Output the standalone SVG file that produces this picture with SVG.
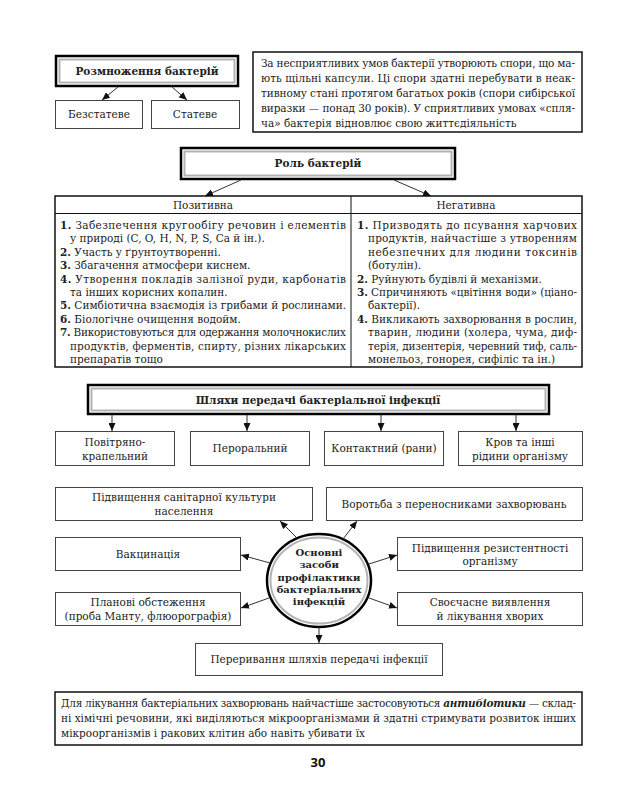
<svg xmlns="http://www.w3.org/2000/svg" width="631" height="800" viewBox="0 0 631 800">
<defs>
<marker id="ah" markerUnits="userSpaceOnUse" markerWidth="8" markerHeight="7" refX="8" refY="3.5" orient="auto">
<path d="M0,0 L8,3.5 L0,7 z" fill="#111"/>
</marker>
<style>
.box{fill:#fff;stroke:#444;stroke-width:1}
.tb{fill:#fff;stroke:#111;stroke-width:1.5}
.hdo{fill:#fff;stroke:#000;stroke-width:2.5}
.hdi{fill:none;stroke:#b4b4b4;stroke-width:2}
.t{font-family:"DejaVu Serif","Liberation Serif",serif;font-size:10.5px;fill:#222}
.c{text-anchor:middle}
.b{font-weight:bold}
.e{font-size:10px}
.conn line{stroke:#333;stroke-width:1;marker-end:url(#ah)}
.pg{font-family:"Open Sans","DejaVu Sans",sans-serif;font-size:13px;font-weight:bold;fill:#111;text-anchor:middle}
</style>
</defs>
<rect width="631" height="800" fill="#fff"/>

<g id="reproduction">
<rect class="hdo" x="56" y="56" width="182" height="30"/>
<rect class="hdi" x="59.5" y="59.5" width="175" height="23"/>
<text class="t c b" x="147" y="75">Розмноження бактерій</text>
</g>
<g id="asexual">
<rect class="box" x="55.5" y="100.5" width="87" height="28"/>
<text class="t c" x="99" y="118">Безстатеве</text>
</g>
<g id="sexual">
<rect class="box" x="151.5" y="100.5" width="88" height="28"/>
<text class="t c" x="195" y="118">Статеве</text>
</g>
<g id="spores-note">
<rect class="tb" x="253" y="52" width="329" height="80"/>
<text class="t" x="261" y="67" textLength="314" lengthAdjust="spacing">За несприятливих умов бактерії утворюють спори, що ма-</text>
<text class="t" x="261" y="82" textLength="314" lengthAdjust="spacing">ють щільні капсули. Ці спори здатні перебувати в неак-</text>
<text class="t" x="261" y="97" textLength="314" lengthAdjust="spacing">тивному стані протягом багатьох років (спори сибірської</text>
<text class="t" x="261" y="112" textLength="314" lengthAdjust="spacing">виразки — понад 30 років). У сприятливих умовах «спля-</text>
<text class="t" x="261" y="127">ча» бактерія відновлює свою життєдіяльність</text>
</g>

<g id="role">
<rect class="hdo" x="181" y="148" width="274" height="31"/>
<rect class="hdi" x="184.5" y="151.5" width="267" height="24"/>
<text class="t c b" x="318" y="167">Роль бактерій</text>
</g>

<g id="role-table">
<rect class="tb" x="55" y="196" width="527" height="171"/>
<line x1="55" y1="213.5" x2="582" y2="213.5" stroke="#111" stroke-width="1"/>
<line x1="351" y1="196" x2="351" y2="367" stroke="#111" stroke-width="1"/>
<text class="t c" x="203" y="209">Позитивна</text>
<text class="t c" x="466" y="209">Негативна</text>
</g>
<g id="positive">
<text class="t" x="60" y="229" textLength="286" lengthAdjust="spacing"><tspan class="b">1.</tspan> Забезпечення кругообігу речовин і елементів</text>
<text class="t" x="70" y="242.4">у природі (C, O, H, N, P, S, Ca й ін.).</text>
<text class="t" x="60" y="255.8"><tspan class="b">2.</tspan> Участь у ґрунтоутворенні.</text>
<text class="t" x="60" y="269.2"><tspan class="b">3.</tspan> Збагачення атмосфери киснем.</text>
<text class="t" x="60" y="282.6" textLength="286" lengthAdjust="spacing"><tspan class="b">4.</tspan> Утворення покладів залізної руди, карбонатів</text>
<text class="t" x="70" y="296">та інших корисних копалин.</text>
<text class="t" x="60" y="309.4" textLength="286" lengthAdjust="spacing"><tspan class="b">5.</tspan> Симбіотична взаємодія із грибами й рослинами.</text>
<text class="t" x="60" y="322.8"><tspan class="b">6.</tspan> Біологічне очищення водойм.</text>
<text class="t" x="60" y="336.2" textLength="286" lengthAdjust="spacing"><tspan class="b">7.</tspan> Використовуються для одержання молочнокислих</text>
<text class="t" x="70" y="349.6" textLength="276" lengthAdjust="spacing">продуктів, ферментів, спирту, різних лікарських</text>
<text class="t" x="70" y="363">препаратів тощо</text>
</g>
<g id="negative">
<text class="t" x="357" y="229" textLength="220" lengthAdjust="spacing"><tspan class="b">1.</tspan> Призводять до псування харчових</text>
<text class="t" x="368" y="242.4" textLength="209" lengthAdjust="spacing">продуктів, найчастіше з утворенням</text>
<text class="t" x="368" y="255.8" textLength="209" lengthAdjust="spacing">небезпечних для людини токсинів</text>
<text class="t" x="368" y="269.2">(ботулін).</text>
<text class="t" x="357" y="282.6"><tspan class="b">2.</tspan> Руйнують будівлі й механізми.</text>
<text class="t" x="357" y="296" textLength="220" lengthAdjust="spacing"><tspan class="b">3.</tspan> Спричиняють «цвітіння води» (ціано-</text>
<text class="t" x="368" y="309.4">бактерії).</text>
<text class="t" x="357" y="322.8" textLength="220" lengthAdjust="spacing"><tspan class="b">4.</tspan> Викликають захворювання в рослин,</text>
<text class="t" x="368" y="336.2" textLength="209" lengthAdjust="spacing">тварин, людини (холера, чума, диф-</text>
<text class="t" x="368" y="349.6" textLength="209" lengthAdjust="spacing">терія, дизентерія, черевний тиф, саль-</text>
<text class="t" x="368" y="363">монельоз, гонорея, сифіліс та ін.)</text>
</g>

<g id="transmission">
<rect class="hdo" x="88" y="385" width="461" height="29"/>
<rect class="hdi" x="91.5" y="388.5" width="454" height="22"/>
<text class="t c b" x="318" y="404">Шляхи передачі бактеріальної інфекції</text>
</g>
<g id="airborne">
<rect class="box" x="55.5" y="431.5" width="119" height="34"/>
<text class="t c" x="115" y="446">Повітряно-</text>
<text class="t c" x="115" y="460">крапельний</text>
</g>
<g id="oral">
<rect class="box" x="190.5" y="431.5" width="119" height="34"/>
<text class="t c" x="250" y="452">Пероральний</text>
</g>
<g id="contact">
<rect class="box" x="324.5" y="431.5" width="119" height="34"/>
<text class="t c" x="384" y="452">Контактний (рани)</text>
</g>
<g id="blood">
<rect class="box" x="458.5" y="431.5" width="124" height="34"/>
<text class="t c" x="520" y="446">Кров та інші</text>
<text class="t c" x="520" y="460">рідини організму</text>
</g>

<g id="sanitary">
<rect class="box" x="55.5" y="487.5" width="257" height="33"/>
<text class="t c" x="184" y="501">Підвищення санітарної культури</text>
<text class="t c" x="184" y="515">населення</text>
</g>
<g id="vectors">
<rect class="box" x="326.5" y="487.5" width="256" height="33"/>
<text class="t c" x="454" y="508">Воротьба з переносниками захворювань</text>
</g>
<g id="vaccination">
<rect class="box" x="55.5" y="537.5" width="185" height="33"/>
<text class="t c" x="148" y="558">Вакцинація</text>
</g>
<g id="resistance">
<rect class="box" x="397.5" y="537.5" width="185" height="33"/>
<text class="t c" x="490" y="552">Підвищення резистентності</text>
<text class="t c" x="490" y="565">організму</text>
</g>
<g id="screening">
<rect class="box" x="55.5" y="592.5" width="185" height="33"/>
<text class="t c" x="148" y="606">Планові обстеження</text>
<text class="t c" x="148" y="620">(проба Манту, флюорографія)</text>
</g>
<g id="detection">
<rect class="box" x="397.5" y="592.5" width="185" height="33"/>
<text class="t c" x="490" y="606">Своєчасне виявлення</text>
<text class="t c" x="490" y="620">й лікування хворих</text>
</g>
<g id="interrupt">
<rect class="box" x="195.5" y="643.5" width="247" height="32"/>
<text class="t c" x="319" y="663">Переривання шляхів передачі інфекції</text>
</g>
<g id="prophylaxis">
<ellipse cx="319" cy="580.5" rx="52" ry="46.5" fill="#fff" stroke="#000" stroke-width="2.5"/>
<ellipse cx="319" cy="580.5" rx="48.5" ry="43" fill="none" stroke="#b4b4b4" stroke-width="2"/>
<text class="t c b e" x="319" y="556">Основні</text>
<text class="t c b e" x="319" y="568.3">засоби</text>
<text class="t c b e" x="319" y="580.6">профілактики</text>
<text class="t c b e" x="319" y="592.9">бактеріальних</text>
<text class="t c b e" x="319" y="605.2">інфекцій</text>
</g>

<g id="antibiotics">
<rect class="tb" x="55" y="692" width="527" height="53"/>
<text class="t" x="61" y="707" textLength="515" lengthAdjust="spacing">Для лікування бактеріальних захворювань найчастіше застосовуються <tspan font-weight="bold" font-style="italic">антибіотики</tspan> — склад-</text>
<text class="t" x="61" y="722" textLength="515" lengthAdjust="spacing">ні хімічні речовини, які виділяються мікроорганізмами й здатні стримувати розвиток інших</text>
<text class="t" x="61" y="737">мікроорганізмів і ракових клітин або навіть убивати їх</text>
</g>
<text class="pg" x="318" y="767">30</text>

<g id="connectors" class="conn">
<line x1="118" y1="87" x2="102" y2="100"/>
<line x1="172" y1="87" x2="187" y2="100"/>
<line x1="241" y1="180" x2="205" y2="196"/>
<line x1="394" y1="180" x2="431" y2="196"/>
<line x1="112" y1="415" x2="112" y2="431"/>
<line x1="247" y1="415" x2="247" y2="431"/>
<line x1="381" y1="415" x2="381" y2="431"/>
<line x1="516" y1="415" x2="516" y2="431"/>
<line x1="297" y1="538" x2="280" y2="521"/>
<line x1="343" y1="539" x2="357" y2="521"/>
<line x1="270" y1="563" x2="241" y2="555"/>
<line x1="269" y1="598" x2="241" y2="608"/>
<line x1="369" y1="564" x2="397" y2="555"/>
<line x1="369" y1="598" x2="397" y2="608"/>
<line x1="319" y1="627" x2="319" y2="643"/>
</g>
</svg>
